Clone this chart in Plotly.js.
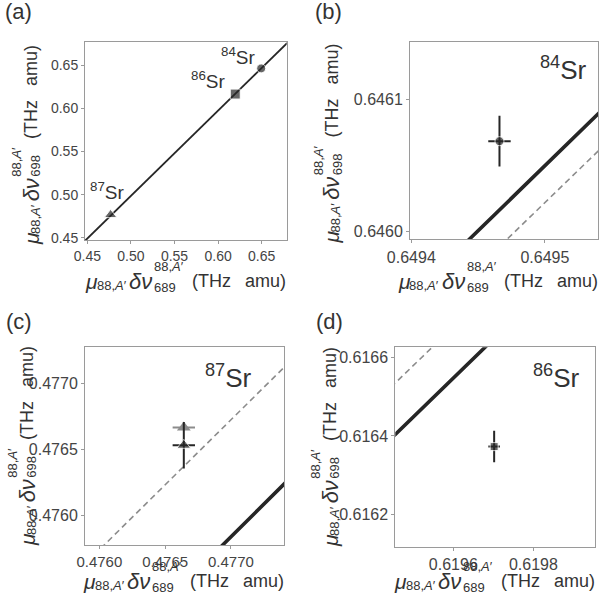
<!DOCTYPE html>
<html>
<head>
<meta charset="utf-8">
<script src="https://cdn.plot.ly/plotly-3.0.1.min.js"></script>
<style>
  html, body { margin: 0; padding: 0; background: #fff; }
  #graphDiv { width: 600px; height: 596px; }
</style>
</head>
<body>
<div id="graphDiv"></div>
<script>
// modified-isotope-shift values, x = 689 nm, y = 698 nm (THz amu)
var isoMass = ['84', '86', '87'];
var nuX = [0.649466, 0.619702, 0.476642];
var nuY = [0.6460685, 0.616373, 0.476532];
var errX = [0.0000084, 0.0000145, 0.000085];
var errY = [0.0000193, 0.00004, 0.000175];

// second (grey) 87Sr value
var greyX = [0.476642];
var greyY = [0.476666];
var greyErrX = [0.000085];
var greyErrY = [0.00001];

// fitted King line (solid) and alternative line (dashed), end points
var fitX = [0.44, 0.69];
var fitY = [0.439332, 0.686012];
var altX = [0.44, 0.69];
var altY = [0.440411, 0.68577];

var symbols = ['circle', 'square', 'triangle-up'];
var W = 600, H = 596;
var ink = '#262626';

function px(x) { return x / W; }
function py(y) { return 1 - y / H; }

var data = [];
var axes = [['x', 'y'], ['x2', 'y2'], ['x3', 'y3'], ['x4', 'y4']];

// panel (a)
data.push({ x: fitX, y: fitY, mode: 'lines', line: { color: ink, width: 1.8 }, xaxis: 'x', yaxis: 'y' });
data.push({
    x: nuX, y: nuY, mode: 'markers', xaxis: 'x', yaxis: 'y',
    marker: { symbol: symbols, size: [9, 10, 11], color: ink }
});

// zoomed panels
for (var i = 1; i < 4; i++) {
    var xa = axes[i][0], ya = axes[i][1];
    data.push({ x: altX, y: altY, mode: 'lines', line: { color: '#8c8c8c', width: 1.6, dash: '6px,4px' }, xaxis: xa, yaxis: ya });
    data.push({ x: fitX, y: fitY, mode: 'lines', line: { color: ink, width: 3.6 }, xaxis: xa, yaxis: ya });
    if (i == 2) {
        data.push({
            x: greyX, y: greyY, mode: 'markers', xaxis: xa, yaxis: ya,
            marker: { symbol: 'triangle-up', size: 12, color: '#8c8c8c' },
            error_x: { type: 'data', array: greyErrX, color: '#8c8c8c', thickness: 2, width: 0 },
            error_y: { type: 'data', array: greyErrY, color: '#8c8c8c', thickness: 2, width: 0 }
        });
    }
    data.push({
        x: nuX, y: nuY, mode: 'markers', xaxis: xa, yaxis: ya,
        marker: { symbol: symbols, size: [9, 8, 12], color: ink },
        error_x: { type: 'data', array: errX, color: ink, thickness: 2, width: 0 },
        error_y: { type: 'data', array: errY, color: ink, thickness: 2, width: 0 }
    });
}

function ax(x0, x1, range, vals, fmt, anchor, fs) {
    return {
        domain: [x0, x1], range: range, anchor: anchor,
        tickvals: vals, tickformat: fmt,
        showline: true, mirror: true, linecolor: '#9a9a9a', linewidth: 1,
        ticks: 'outside', ticklen: 3, tickcolor: '#9a9a9a',
        showgrid: false, zeroline: false,
        tickfont: { size: fs, color: '#444' }
    };
}

var layout = {
    width: W, height: H,
    margin: { l: 0, r: 0, t: 0, b: 0 },
    showlegend: false,
    paper_bgcolor: '#fff', plot_bgcolor: '#fff',
    font: { family: '"Liberation Sans", Arial, sans-serif', color: '#333' },
    xaxis: ax(px(85), px(286.7), [0.44725, 0.67876], [0.45, 0.5, 0.55, 0.6, 0.65], '.2f', 'y', 14),
    yaxis: ax(py(240), py(42.3), [0.44745, 0.67627], [0.45, 0.5, 0.55, 0.6, 0.65], '.2f', 'x', 14),
    xaxis2: ax(px(410), px(598.3), [0.649399, 0.64954], [0.6494, 0.6495], '.4f', 'y2', 16),
    yaxis2: ax(py(239.3), py(41.7), [0.645994, 0.646144], [0.646, 0.6461], '.4f', 'x2', 16),
    xaxis3: ax(px(85), px(284), [0.475891, 0.4774035], [0.476, 0.4765, 0.477], '.4f', 'y3', 15),
    yaxis3: ax(py(545), py(347.3), [0.475779, 0.477272], [0.476, 0.4765, 0.477], '.4f', 'x3', 16),
    xaxis4: ax(px(395.3), px(595), [0.619455, 0.619954], [0.6196, 0.6198], '.4f', 'y4', 16),
    yaxis4: ax(py(546.7), py(347.3), [0.616119, 0.616625], [0.6162, 0.6164, 0.6166], '.4f', 'x4', 16),
    annotations: []
};

var ann = layout.annotations;
function label(text, x, y, size, anchor) {
    ann.push({ xref: 'paper', yref: 'paper', x: px(x), y: py(y), text: text, showarrow: false,
        xanchor: anchor || 'center', yanchor: 'middle', borderpad: 0, font: { size: size, color: '#333' } });
}

// panel letters
label('(a)', 4, 12, 22, 'left');
label('(b)', 314, 11, 22, 'left');
label('(c)', 5, 321, 22, 'left');
label('(d)', 315, 321, 22, 'left');

// isotope labels
label('<sup>84</sup>Sr', 238, 56, 19);
label('<sup>86</sup>Sr', 208, 80, 19);
label('<sup>87</sup>Sr', 107, 191, 19);
label('<sup>84</sup>Sr', 563, 69, 26);
label('<sup>87</sup>Sr', 228, 376, 26);
label('<sup>86</sup>Sr', 556, 376, 26);

// axis titles with stacked super/subscript, built from pieces
var ctx = document.createElement('canvas').getContext('2d');
function tw(t, size, it) {
    ctx.font = (it ? 'italic ' : '') + size + 'px "Liberation Sans"';
    return ctx.measureText(t).width;
}

function axisTitle(cx, cy, vertical, digits) {
    var F = 18, s = 13;
    var supW = tw('88,', s) + tw('A', s, true) + tw('\u2032', s);
    var up = vertical ? 14 : 15, down = vertical ? -5 : -6;
    var parts = [
        { t: '<i>\u03bc</i>', w: tw('\u03bc', 21, true), size: 21, sh: 0 },
        { t: '88,<i>A</i>\u2032', w: supW + 3, size: s, sh: -4 },
        { t: '<i>\u03b4\u03bd</i>', w: tw('\u03b4\u03bd', 22, true) + 2, size: 22, sh: 0 },
        { t: '88,<i>A</i>\u2032', w: 0, size: s, sh: up },
        { t: digits, w: supW + 8, size: s, sh: down },
        { t: '(THz', w: tw('(THz', F) + 14, size: F, sh: 0 },
        { t: 'amu)', w: tw('amu)', F), size: F, sh: 0 }
    ];
    var total = 0;
    parts.forEach(function (p) { total += p.w; });
    var pos = -total / 2;
    parts.forEach(function (p) {
        var a = { xref: 'paper', yref: 'paper', text: p.t, showarrow: false, borderpad: 0,
            font: { size: p.size, color: '#333' } };
        if (vertical) {
            a.x = px(cx); a.y = py(cy - pos);
            a.xanchor = 'center'; a.yanchor = 'bottom';
            a.xshift = -p.sh; a.textangle = -90;
        } else {
            a.x = px(cx + pos); a.y = py(cy);
            a.xanchor = 'left'; a.yanchor = 'middle';
            a.yshift = p.sh;
        }
        ann.push(a);
        pos += p.w;
    });
}

axisTitle(184.5, 281, false, '689');
axisTitle(497, 281, false, '689');
axisTitle(182.5, 581, false, '689');
axisTitle(493.5, 581, false, '689');
axisTitle(31, 146.5, true, '698');
axisTitle(332, 145, true, '698');
axisTitle(27, 447.5, true, '698');
axisTitle(330, 448.5, true, '698');

Plotly.newPlot('graphDiv', data, layout, { staticPlot: true });
</script>
</body>
</html>
